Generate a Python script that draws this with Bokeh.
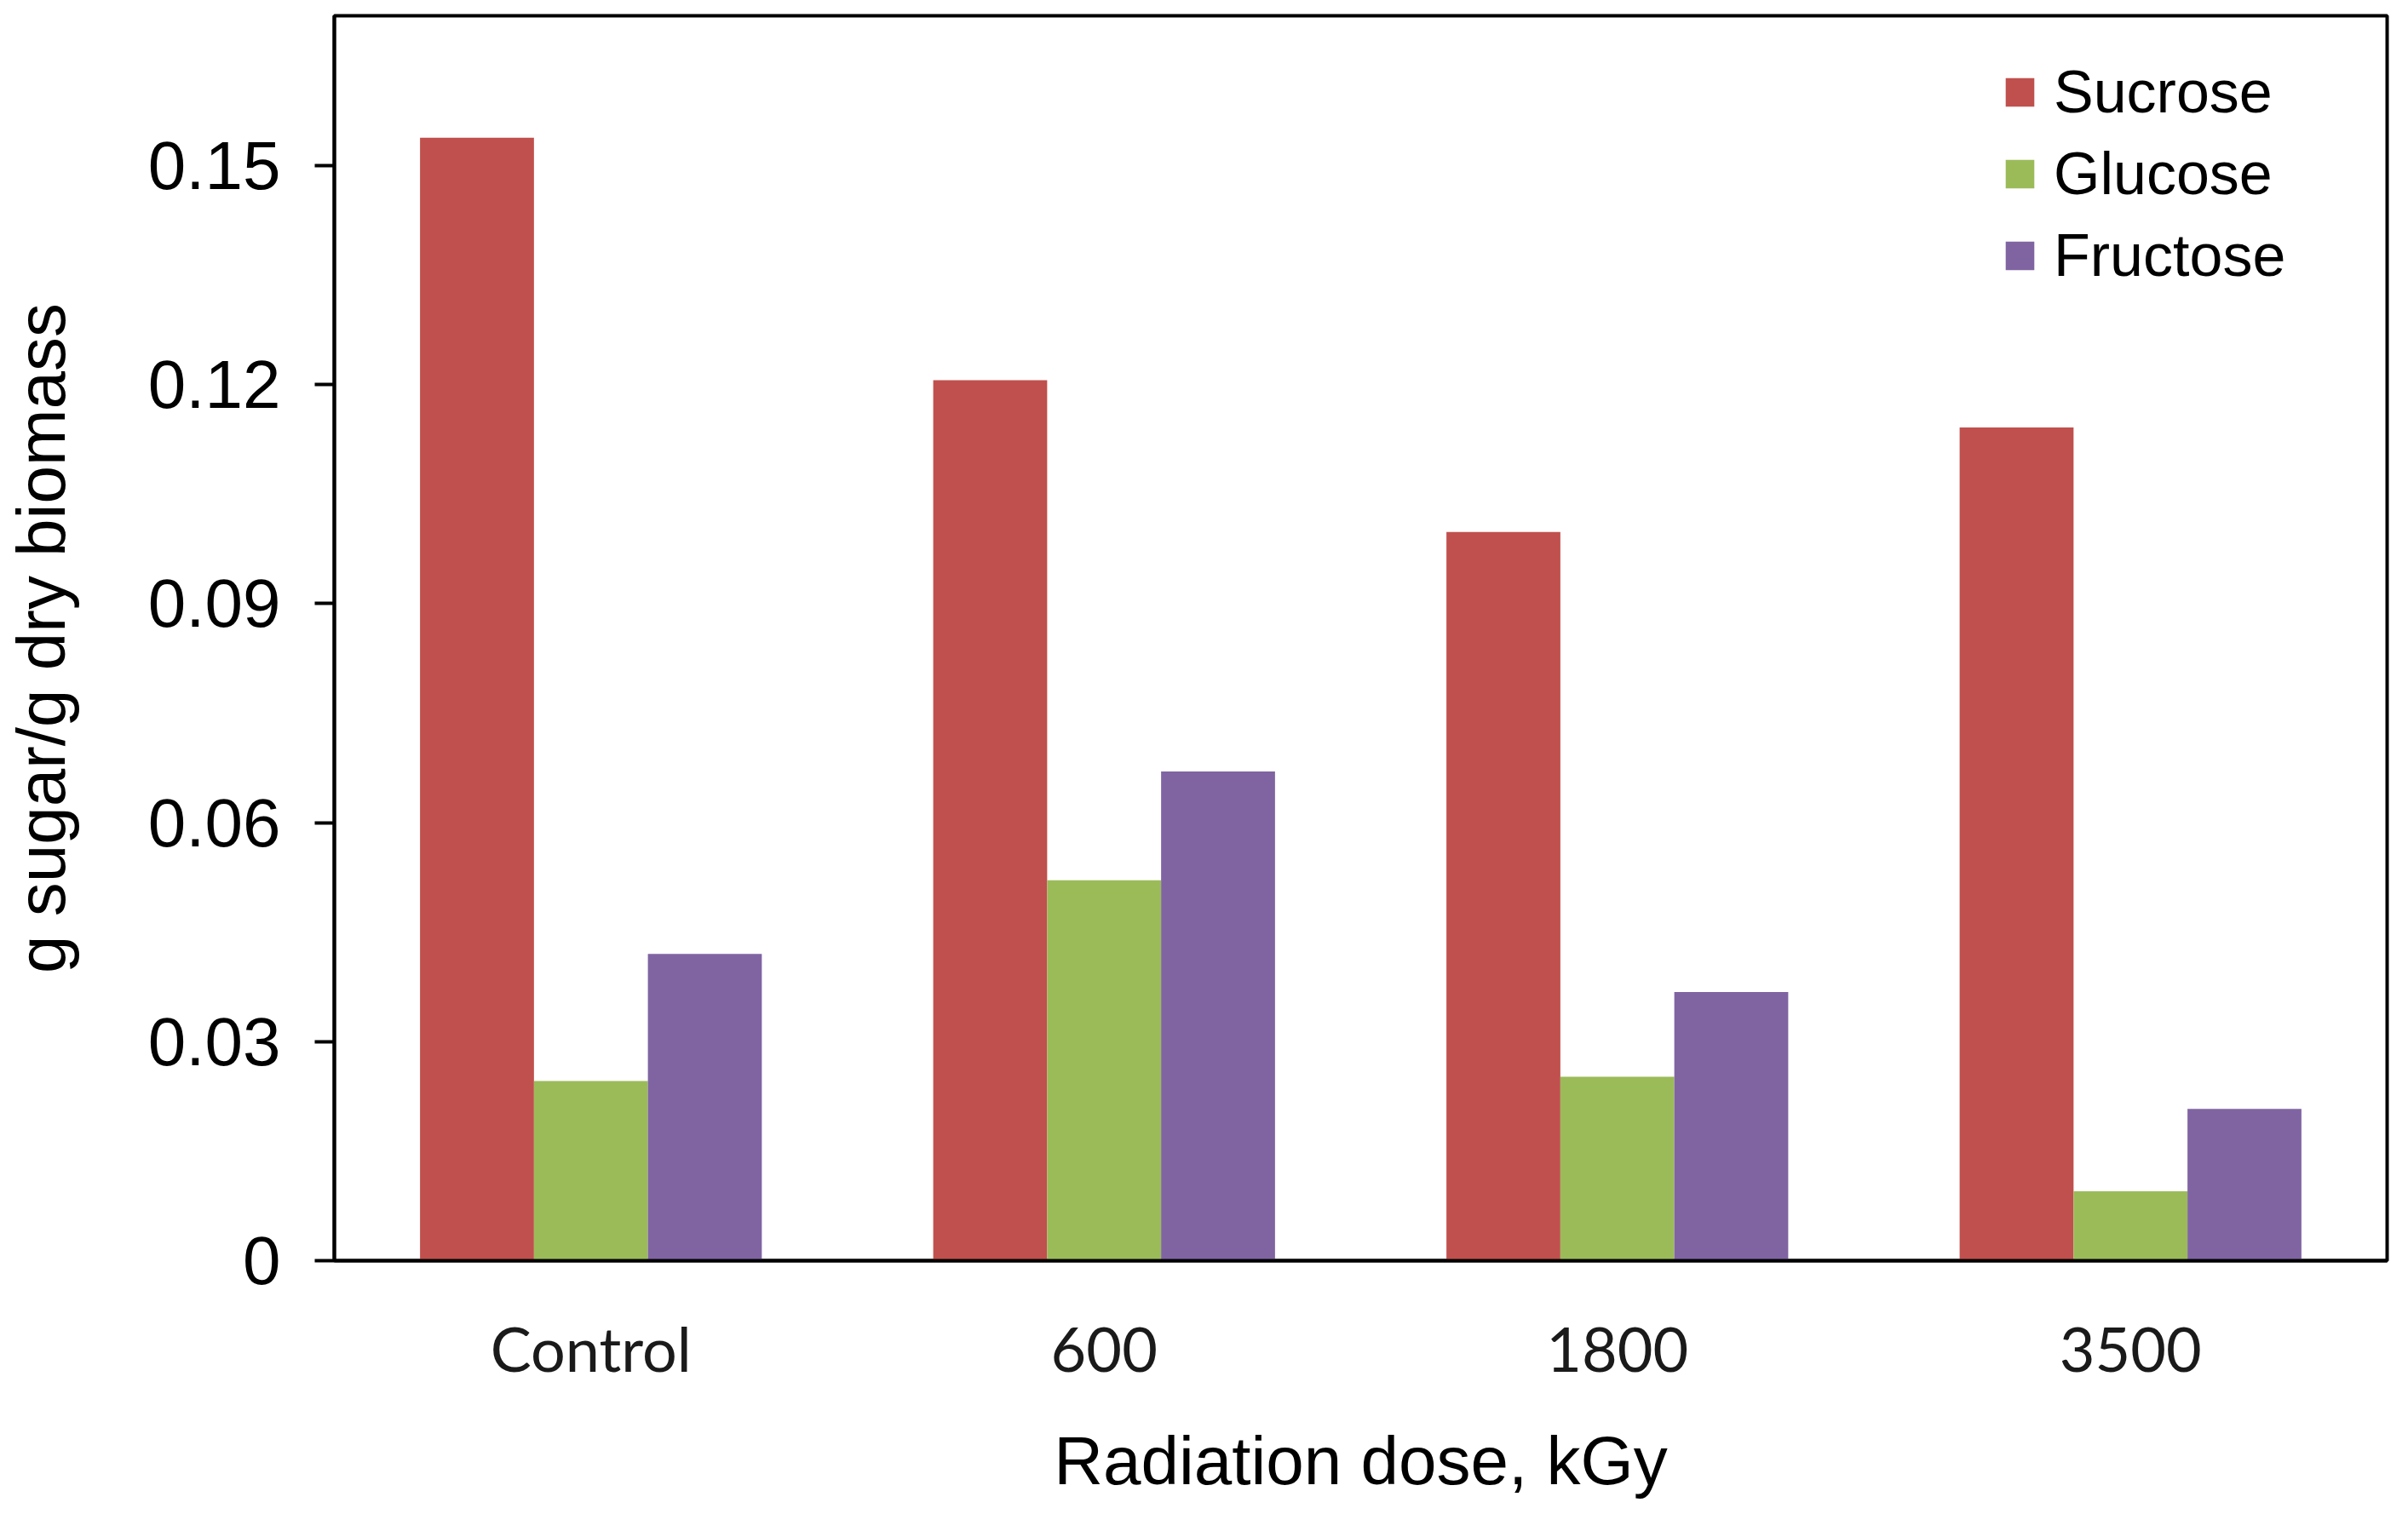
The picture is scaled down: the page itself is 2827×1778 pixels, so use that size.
from bokeh.plotting import figure
from bokeh.models import ColumnDataSource, FactorRange, Range1d, FixedTicker, NumeralTickFormatter, Legend, LegendItem
from bokeh.transform import dodge
from bokeh.embed import file_html
from bokeh.resources import INLINE

categories = ["Control", "600", "1800", "3500"]
sucrose = [0.1538, 0.1206, 0.0998, 0.1141]
glucose = [0.0246, 0.0521, 0.0252, 0.0095]
fructose = [0.0420, 0.0670, 0.0368, 0.0208]
series_names = ["Sucrose", "Glucose", "Fructose"]
colors = ["#C0504D", "#9BBB59", "#8064A2"]
y_ticks = [0, 0.03, 0.06, 0.09, 0.12, 0.15]

src = ColumnDataSource(dict(cat=categories, Sucrose=sucrose, Glucose=glucose, Fructose=fructose))

W, H = 2811, 1762
p = figure(width=W, height=H, x_range=FactorRange(*categories, range_padding=0),
           y_range=Range1d(0, 0.1705), output_backend="svg", toolbar_location=None,
           min_border_left=385, min_border_right=9, min_border_top=18, min_border_bottom=282)
p.x_range.range_padding = 0

bw = 0.222
offsets = [-bw, 0, bw]
renderers = []
for name, col, off in zip(series_names, colors, offsets):
    r = p.vbar(x=dodge("cat", off, range=p.x_range), top=name, width=bw, source=src,
               fill_color=col, line_color=None)
    renderers.append(r)

p.xgrid.grid_line_color = None
p.ygrid.grid_line_color = None
p.outline_line_color = "black"
p.outline_line_width = 4
p.background_fill_color = "white"
p.border_fill_color = "white"

ya = p.yaxis[0]
ya.ticker = FixedTicker(ticks=y_ticks)
ya.formatter = NumeralTickFormatter(format="0.[00]")
ya.axis_line_color = "black"
ya.axis_line_width = 4
ya.major_tick_line_color = "black"
ya.major_tick_line_width = 4
ya.major_tick_out = 23
ya.major_tick_in = 0
ya.minor_tick_line_color = None
ya.minor_tick_out = 0
ya.minor_tick_in = 0
ya.major_label_standoff = 40
ya.major_label_text_font = "Liberation Sans"
ya.major_label_text_font_size = "80px"
ya.major_label_text_color = "black"
ya.axis_label = "g sugar/g dry biomass"
ya.axis_label_text_font = "Liberation Sans"
ya.axis_label_text_font_size = "80px"
ya.axis_label_text_font_style = "normal"
ya.axis_label_text_color = "black"
ya.axis_label_standoff = 78

xa = p.xaxis[0]
xa.axis_line_color = "black"
xa.axis_line_width = 4
xa.major_tick_line_color = None
xa.minor_tick_line_color = None
xa.major_tick_out = 0
xa.major_tick_in = 0
xa.minor_tick_out = 0
xa.minor_tick_in = 0
xa.major_label_standoff = 59
xa.major_label_text_font = "Lato"
xa.major_label_text_font_size = "72px"
xa.major_label_text_color = "#1a1a1a"
xa.axis_label = "Radiation dose, kGy"
xa.axis_label_text_font = "Liberation Sans"
xa.axis_label_text_font_size = "80px"
xa.axis_label_text_font_style = "normal"
xa.axis_label_text_color = "black"
xa.axis_label_standoff = 42

legend = Legend(items=[LegendItem(label=n, renderers=[r]) for n, r in zip(series_names, renderers)],
                location=(1958, 1137))
legend.label_text_font = "Liberation Sans"
legend.label_text_font_size = "70px"
legend.label_text_color = "black"
legend.glyph_width = 42
legend.glyph_height = 42
legend.label_height = 86
legend.spacing = 10
legend.padding = 0
legend.margin = 0
legend.label_standoff = 19
legend.border_line_color = None
legend.background_fill_alpha = 0
p.add_layout(legend)

open("out.html", "w").write(file_html(p, INLINE))
